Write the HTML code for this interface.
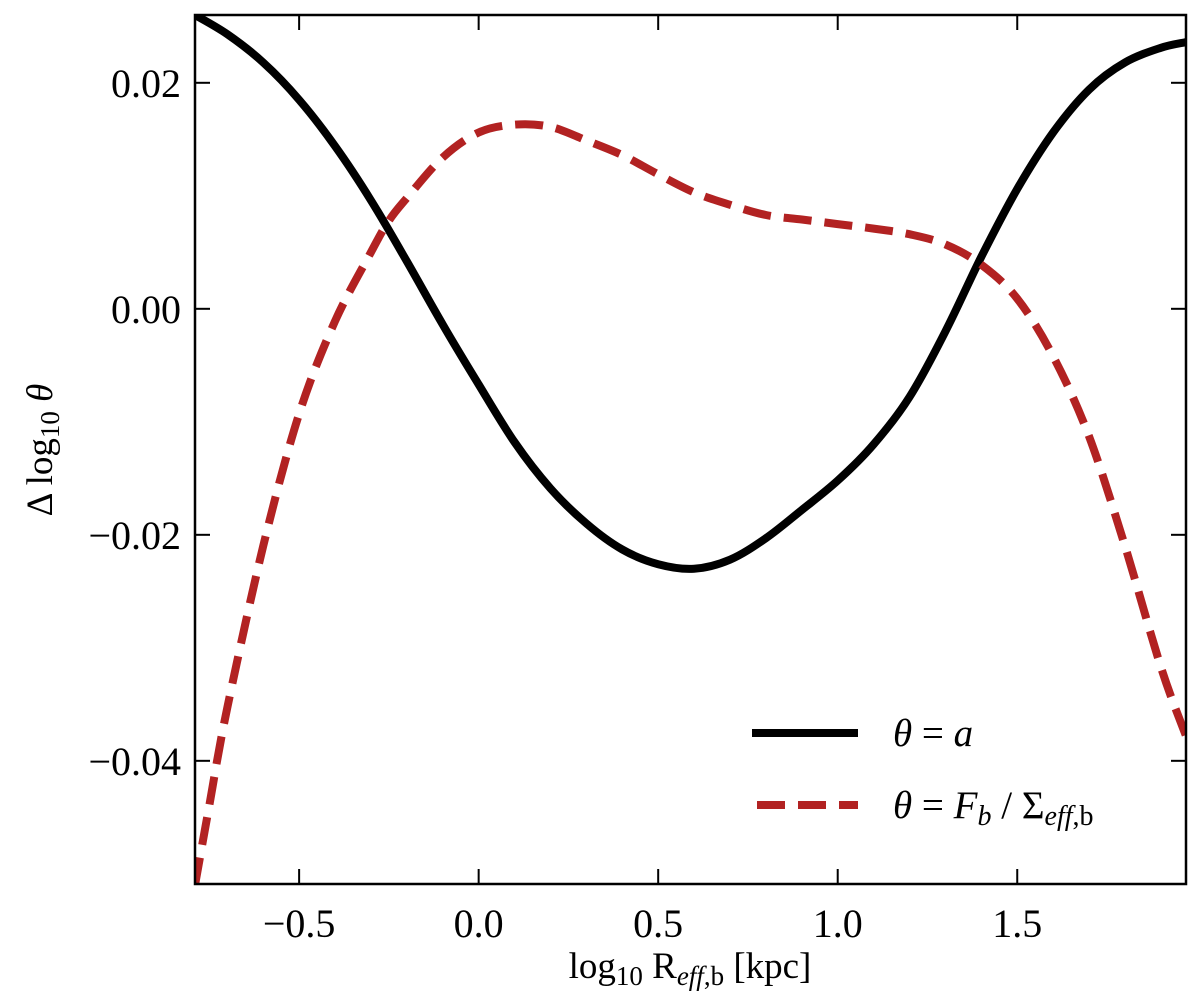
<!DOCTYPE html>
<html><head><meta charset="utf-8"><style>
body{margin:0;background:#fff}
svg{display:block;font-family:"Liberation Serif","DejaVu Serif",serif}
</style></head><body>
<svg id="chart" width="1200" height="1003" viewBox="0 0 1200 1003">
<g id="lines"></g>
<g id="axes"></g>
<g>
  <line x1="752" y1="733" x2="858" y2="733" stroke="#000" stroke-width="8"/>
  <text x="893" y="746" font-size="39"><tspan font-style="italic">θ</tspan> = <tspan font-style="italic">a</tspan></text>
  <line x1="757" y1="805" x2="858" y2="805" stroke="#b22222" stroke-width="8" stroke-dasharray="28,13"/>
  <text x="893" y="818" font-size="39"><tspan font-style="italic">θ</tspan> = <tspan font-style="italic">F</tspan><tspan font-style="italic" font-size="28" dy="7">b</tspan><tspan dy="-7"> / Σ</tspan><tspan font-size="28" dy="7"><tspan font-style="italic">eff</tspan>,b</tspan></text>
</g>
<text x="690" y="978" font-size="37" text-anchor="middle">log<tspan font-size="27" dy="7">10</tspan><tspan dy="-7"> R</tspan><tspan font-size="27" dy="7"><tspan font-style="italic">eff</tspan>,b</tspan><tspan dy="-7"> [kpc]</tspan></text>
<text transform="translate(52,450) rotate(-90)" font-size="37" text-anchor="middle">Δ log<tspan font-size="27" dy="7">10</tspan><tspan dy="-7" font-style="italic"> θ</tspan></text>
</svg>
<script>
const xBlack = [-0.79,-0.7,-0.6,-0.5,-0.4,-0.3,-0.2,-0.1,0.0,0.1,0.2,0.3,0.4,0.5,0.6,0.7,0.8,0.9,1.0,1.1,1.2,1.3,1.4,1.5,1.6,1.7,1.8,1.9,1.97];
const yBlack = [0.0260,0.0243,0.0218,0.0185,0.0144,0.0096,0.0042,-0.0014,-0.0067,-0.0118,-0.0159,-0.0190,-0.0213,-0.0226,-0.0230,-0.0222,-0.0203,-0.0178,-0.0152,-0.0120,-0.0078,-0.0020,0.0046,0.0106,0.0156,0.0194,0.0218,0.0231,0.0236];
const xRed = [-0.79,-0.75,-0.7,-0.6,-0.5,-0.4,-0.3,-0.25,-0.2,-0.1,0.0,0.1,0.2,0.3,0.4,0.5,0.6,0.7,0.8,0.9,1.0,1.1,1.2,1.3,1.4,1.5,1.6,1.7,1.8,1.9,1.97];
const yRed = [-0.051,-0.0439,-0.0353,-0.021,-0.0093,-0.0011,0.0050,0.0078,0.0098,0.0134,0.0156,0.0163,0.0161,0.0149,0.0136,0.0119,0.0103,0.0092,0.0083,0.0079,0.0075,0.0071,0.0066,0.0057,0.0039,0.0009,-0.0042,-0.0113,-0.0210,-0.0317,-0.0378];
const xTicks = [-0.5,0.0,0.5,1.0,1.5];
const xTickLabels = ["\u22120.5","0.0","0.5","1.0","1.5"];
const yTicks = [0.02,0.0,-0.02,-0.04];
const yTickLabels = ["0.02","0.00","\u22120.02","\u22120.04"];

const L=195,R=1186,T=15,B=884,XMIN=-0.79,XMAX=1.97,YMIN=-0.0509,YMAX=0.026;
const sx=v=>L+(v-XMIN)/(XMAX-XMIN)*(R-L);
const sy=v=>B-(v-YMIN)/(YMAX-YMIN)*(B-T);
const NS="http://www.w3.org/2000/svg";
function mk(tag,attrs,parent){const e=document.createElementNS(NS,tag);for(const k in attrs)e.setAttribute(k,attrs[k]);parent.appendChild(e);return e;}
const lines=document.getElementById('lines');
const axes=document.getElementById('axes');
const cp=mk('clipPath',{id:'clip'},lines);
mk('rect',{x:L,y:T,width:R-L,height:B-T},cp);
function path(xs,ys){
  const p=xs.map((x,i)=>[sx(x),sy(ys[i])]);
  let d='M'+p[0][0].toFixed(1)+','+p[0][1].toFixed(1);
  for(let i=0;i<p.length-1;i++){
    const p0=p[i-1]||p[i],p1=p[i],p2=p[i+1],p3=p[i+2]||p[i+1];
    const c1=[p1[0]+(p2[0]-p0[0])/6,p1[1]+(p2[1]-p0[1])/6];
    const c2=[p2[0]-(p3[0]-p1[0])/6,p2[1]-(p3[1]-p1[1])/6];
    d+=' C'+c1.map(v=>v.toFixed(1)).join(',')+' '+c2.map(v=>v.toFixed(1)).join(',')+' '+p2.map(v=>v.toFixed(1)).join(',');
  }
  return d;
}
const pb=mk('path',{d:path(xBlack,yBlack),fill:'none',stroke:'#000','stroke-width':8,'stroke-linejoin':'round','clip-path':'url(#clip)'},lines);


const pr=mk('path',{d:path(xRed,yRed),fill:'none',stroke:'#b22222','stroke-width':8,'stroke-dasharray':'28,13','clip-path':'url(#clip)'},lines);


const frame=mk('rect',{x:L,y:T,width:R-L,height:B-T,fill:'none',stroke:'#000','stroke-width':2.5},axes);


xTicks.forEach((v,i)=>{
  const x=sx(v);
  const t1=mk('line',{x1:x,y1:B,x2:x,y2:B-15,stroke:'#000','stroke-width':2},axes);
  
  
  const t2=mk('line',{x1:x,y1:T,x2:x,y2:T+15,stroke:'#000','stroke-width':2},axes);
  
  
  const tx=mk('text',{x:x,y:B+53,'font-size':40,'text-anchor':'middle'},axes);
  tx.textContent=xTickLabels[i];
  
  
});
yTicks.forEach((v,i)=>{
  const y=sy(v);
  const t1=mk('line',{x1:L,y1:y,x2:L+15,y2:y,stroke:'#000','stroke-width':2},axes);
  
  
  const t2=mk('line',{x1:R,y1:y,x2:R-15,y2:y,stroke:'#000','stroke-width':2},axes);
  
  
  const tx=mk('text',{x:L-14,y:y+14,'font-size':40,'text-anchor':'end'},axes);
  tx.textContent=yTickLabels[i];
  
  
});
</script>
</body></html>
